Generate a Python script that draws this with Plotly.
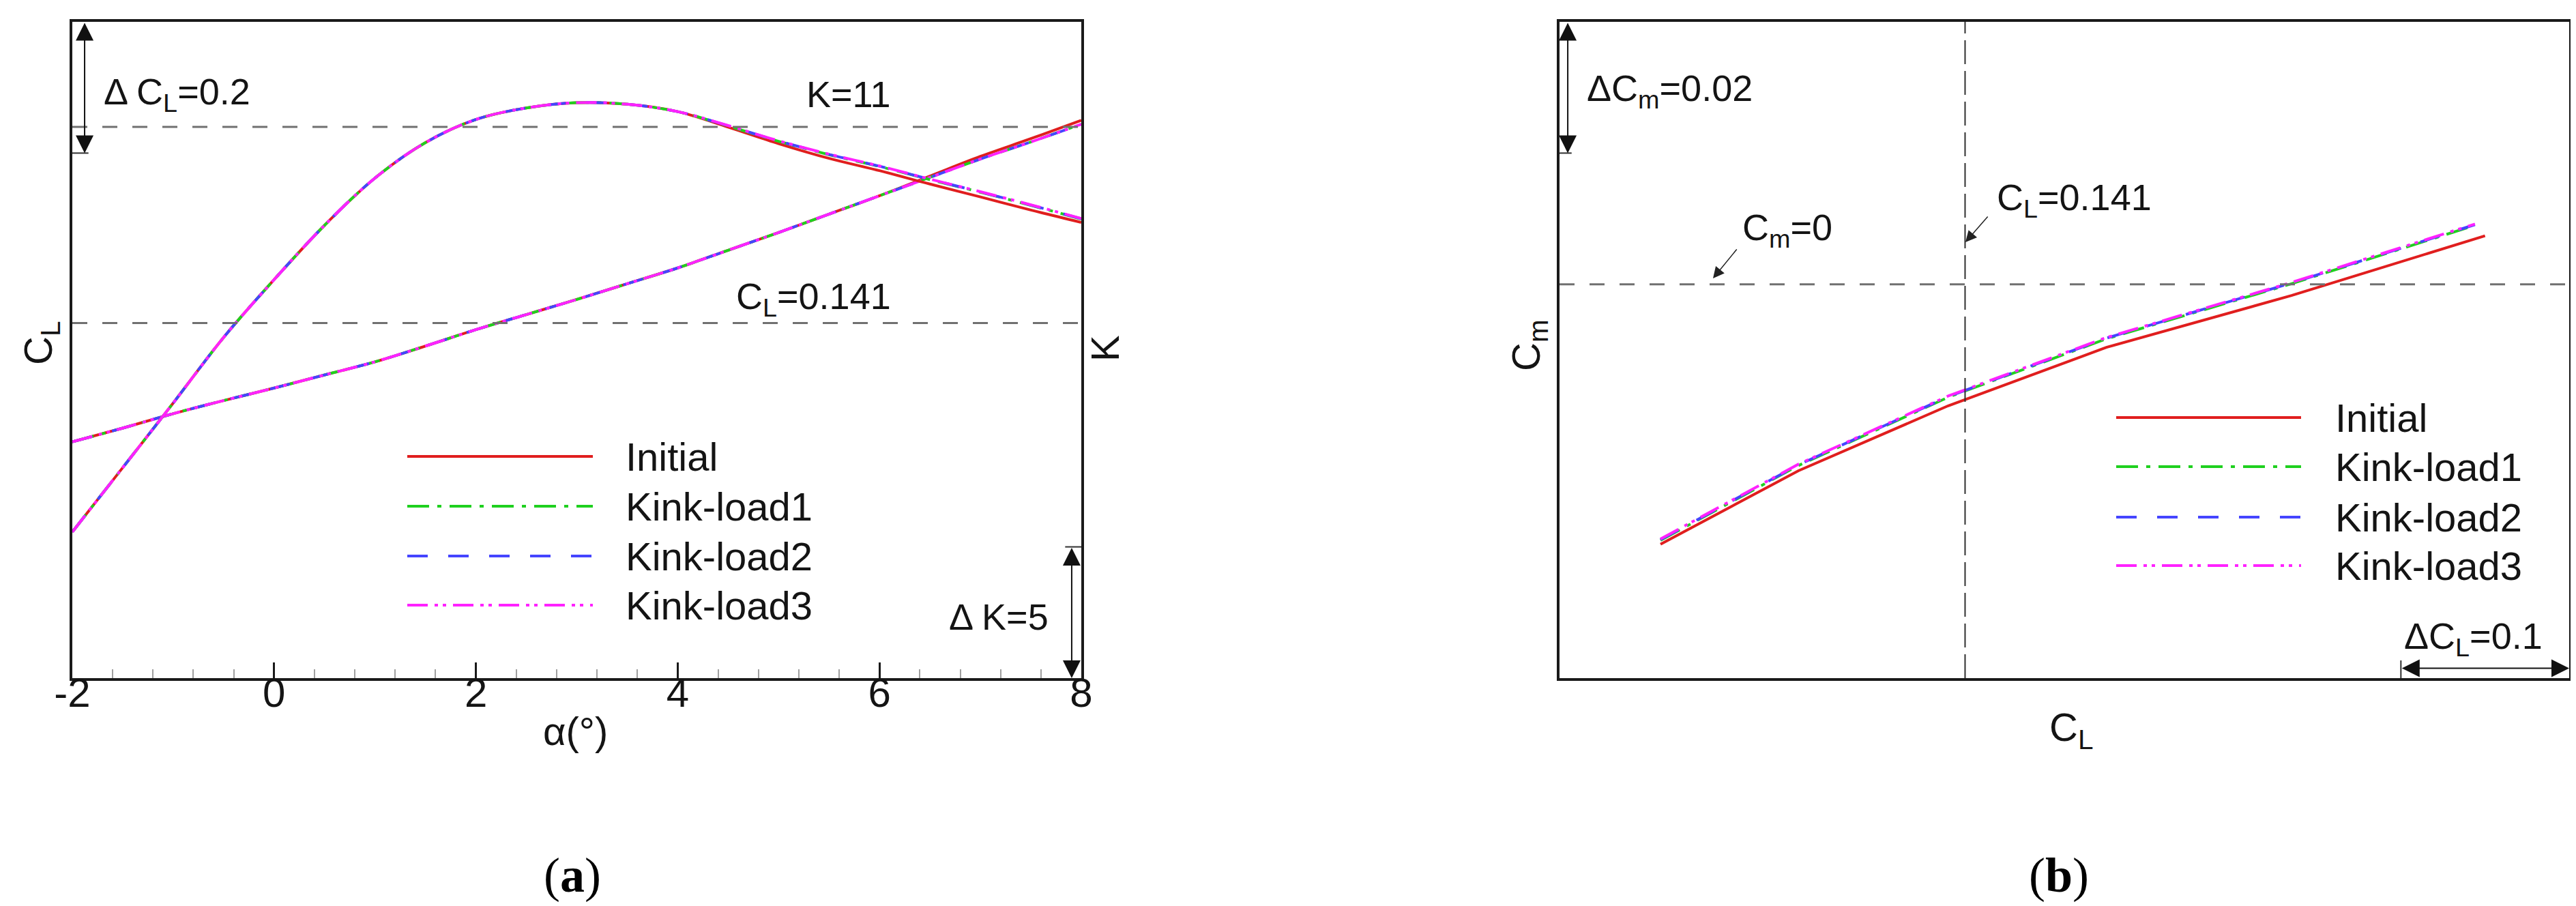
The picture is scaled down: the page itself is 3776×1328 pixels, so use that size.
import plotly.graph_objects as go

# ---------------- data ----------------
series_names = ["Initial", "Kink-load1", "Kink-load2", "Kink-load3"]

alpha = [-2.0, -1.5, -1.0, -0.5, 0.0, 0.5, 1.0, 1.5, 2.0, 2.5, 3.0,
         3.5, 4.0, 4.5, 5.0, 5.5, 6.0, 6.5, 7.0, 7.5, 8.0]

cl_initial = [-0.040, -0.019, 0.003, 0.023, 0.042, 0.062, 0.082, 0.106, 0.131, 0.154, 0.177,
              0.201, 0.225, 0.252, 0.279, 0.307, 0.335, 0.365, 0.395, 0.422, 0.450]
cl_kink1 = [-0.040, -0.019, 0.003, 0.023, 0.042, 0.062, 0.082, 0.106, 0.131, 0.154, 0.177,
            0.201, 0.225, 0.252, 0.279, 0.307, 0.335, 0.363, 0.391, 0.417, 0.444]
cl_kink2 = [-0.040, -0.019, 0.003, 0.023, 0.042, 0.062, 0.082, 0.106, 0.131, 0.154, 0.177,
            0.201, 0.225, 0.252, 0.279, 0.307, 0.335, 0.363, 0.391, 0.417, 0.444]
cl_kink3 = [-0.040, -0.019, 0.003, 0.023, 0.042, 0.062, 0.082, 0.106, 0.131, 0.154, 0.177,
            0.201, 0.225, 0.252, 0.279, 0.307, 0.335, 0.363, 0.391, 0.417, 0.444]

k_initial = [-4.43, -1.98, 0.48, 2.98, 5.18, 7.25, 9.05, 10.40, 11.28, 11.72, 11.92,
             11.86, 11.58, 10.99, 10.36, 9.80, 9.33, 8.82, 8.33, 7.83, 7.36]
k_kink1 = [-4.43, -1.98, 0.48, 2.98, 5.18, 7.25, 9.05, 10.40, 11.28, 11.72, 11.92,
           11.86, 11.58, 11.03, 10.45, 9.94, 9.49, 8.99, 8.51, 8.01, 7.49]
k_kink2 = [-4.43, -1.98, 0.48, 2.98, 5.18, 7.25, 9.05, 10.40, 11.28, 11.72, 11.92,
           11.86, 11.58, 11.04, 10.46, 9.95, 9.50, 9.00, 8.52, 8.02, 7.50]
k_kink3 = [-4.43, -1.98, 0.48, 2.98, 5.18, 7.25, 9.05, 10.40, 11.28, 11.72, 11.92,
           11.86, 11.58, 11.05, 10.47, 9.96, 9.51, 9.01, 8.53, 8.03, 7.51]

cl_b_initial = [-0.040, 0.042, 0.131, 0.225, 0.335, 0.450]
cl_b_kink = [-0.040, 0.042, 0.131, 0.225, 0.335, 0.444]
cm_initial = [-0.0396, -0.0284, -0.0185, -0.0096, -0.0017, 0.0074]
cm_kink1 = [-0.0390, -0.0276, -0.0172, -0.0083, 0.0001, 0.0090]
cm_kink2 = [-0.0389, -0.0275, -0.0171, -0.0082, 0.0002, 0.0091]
cm_kink3 = [-0.0388, -0.0274, -0.0170, -0.0081, 0.0003, 0.0092]

alpha_ticks = [-2, 0, 2, 4, 6, 8]
alpha_tick_text = ["-2", "0", "2", "4", "6", "8"]
CL_DESIGN = 0.141
K_REF = 11
CM_ZERO = 0.0

# ---------------- styles ----------------
W, H = 3776, 1328
FONT = "Liberation Sans, Arial, sans-serif"
TXT = "#141414"
colors = ["#e01e1e", "#1fd01f", "#4545ff", "#ff22ff"]
dashes = ["solid", "32px,12px,6px,12px", "30px,30px", "30px,10px,5px,7px,5px,10px"]
LW = 4


def px(x):
    return x / W


def py(y):
    return 1 - y / H


xa_dom = [px(98), px(1577)]
xb_dom = [px(2278), px(3758)]
y_dom = [py(986), py(24)]

fig = go.Figure()

cl_sets = [cl_initial, cl_kink1, cl_kink2, cl_kink3]
k_sets = [k_initial, k_kink1, k_kink2, k_kink3]
cl_b_sets = [cl_b_initial, cl_b_kink, cl_b_kink, cl_b_kink]
cm_sets = [cm_initial, cm_kink1, cm_kink2, cm_kink3]

for i, name in enumerate(series_names):
    line = dict(color=colors[i], width=LW, dash=dashes[i], shape="spline", smoothing=1.0)
    fig.add_trace(go.Scatter(x=alpha, y=cl_sets[i], mode="lines", name=name, line=line,
                             xaxis="x", yaxis="y", showlegend=False))
    fig.add_trace(go.Scatter(x=alpha, y=k_sets[i], mode="lines", name=name, line=line,
                             xaxis="x", yaxis="y2", showlegend=False))
for i, name in enumerate(series_names):
    fig.add_trace(go.Scatter(x=cl_b_sets[i], y=cm_sets[i], mode="lines", name=name,
                             line=dict(color=colors[i], width=LW, dash=dashes[i]),
                             xaxis="x2", yaxis="y3", showlegend=False))

frame = dict(showline=True, linewidth=4, linecolor="#1a1a1a", mirror=True,
             showgrid=False, zeroline=False)

fig.update_layout(
    width=W, height=H, margin=dict(l=0, r=0, t=0, b=0, autoexpand=False),
    paper_bgcolor="white", plot_bgcolor="white", showlegend=False,
    font=dict(family=FONT, color=TXT, size=58),
    xaxis=dict(domain=xa_dom, range=[-2, 8], anchor="y", **frame, automargin=False,
               ticks="inside", ticklen=23, tickwidth=3, tickcolor="#1a1a1a",
               tickmode="array", tickvals=alpha_ticks, ticktext=alpha_tick_text,
               ticklabelstandoff=-34,
               tickfont=dict(size=60, family=FONT, color=TXT),
               minor=dict(ticks="inside", ticklen=13, tickwidth=2, tickcolor="#a0a0a0",
                          dtick=0.4, tick0=0)),
    yaxis=dict(domain=y_dom, range=[-0.4, 0.6], anchor="x", **frame, automargin=False,
               showticklabels=False, ticks=""),
    yaxis2=dict(range=[-10, 15], overlaying="y", side="right", anchor="x", automargin=False,
                showline=False, showgrid=False, zeroline=False,
                showticklabels=False, ticks=""),
    xaxis2=dict(domain=xb_dom, range=[-0.1, 0.5], anchor="y3", **frame, automargin=False,
                showticklabels=False, ticks=""),
    yaxis3=dict(domain=y_dom, range=[-0.06, 0.04], anchor="x2", **frame, automargin=False,
                showticklabels=False, ticks=""),
)

shapes = []
# reference dashed lines
shapes.append(dict(type="line", xref="x domain", yref="y", x0=0, x1=1, y0=CL_DESIGN, y1=CL_DESIGN,
                   line=dict(color="#707070", width=3, dash="22px,22px")))
shapes.append(dict(type="line", xref="x domain", yref="y2", x0=0, x1=1, y0=K_REF, y1=K_REF,
                   line=dict(color="#707070", width=3, dash="22px,22px")))
shapes.append(dict(type="line", xref="x2 domain", yref="y3", x0=0, x1=1, y0=CM_ZERO, y1=CM_ZERO,
                   line=dict(color="#707070", width=3, dash="22px,22px")))
shapes.append(dict(type="line", xref="x2", yref="y3 domain", x0=CL_DESIGN, x1=CL_DESIGN, y0=0, y1=1,
                   line=dict(color="#303030", width=2, dash="35px,10px")))
# scale-bar end ticks
shapes.append(dict(type="line", xref="x domain", yref="y", x0=0, x1=0.016, y0=0.4, y1=0.4,
                   line=dict(color="#303030", width=2)))
shapes.append(dict(type="line", xref="x domain", yref="y2", x0=0.984, x1=1, y0=-5, y1=-5,
                   line=dict(color="#303030", width=2)))
shapes.append(dict(type="line", xref="x2 domain", yref="y3", x0=0, x1=0.012, y0=0.02, y1=0.02,
                   line=dict(color="#303030", width=2)))
shapes.append(dict(type="line", xref="x2", yref="y3", x0=0.4, x1=0.4, y0=-0.06, y1=-0.0573,
                   line=dict(color="#303030", width=2)))

annotations = []


def arrow2(x0, y0, x1, y1, xref, yref):
    annotations.append(dict(x=x1, y=y1, ax=x0, ay=y0, xref=xref, yref=yref, axref=xref, ayref=yref,
                            text="", showarrow=True, arrowside="end+start", arrowhead=2,
                            arrowsize=2.6, arrowwidth=2, arrowcolor="#111111",
                            font=dict(size=10)))


arrow2(-1.878, 0.6, -1.878, 0.4, "x", "y")
arrow2(7.905, -5, 7.905, -10, "x", "y2")
arrow2(-0.0951, 0.04, -0.0951, 0.02, "x2", "y3")
arrow2(0.4, -0.0585, 0.5, -0.0585, "x2", "y3")


def text(t, x, y, xanchor="left", size=54, angle=0):
    annotations.append(dict(text=t, x=px(x), y=py(y), xref="paper", yref="paper",
                            xanchor=xanchor, yanchor="middle", showarrow=False, textangle=angle,
                            font=dict(family=FONT, size=size, color=TXT)))


# panel a texts
text("Δ C<sub>L</sub>=0.2", 142, 130)
text("K=11", 1300, 130, xanchor="right")
text("C<sub>L</sub>=0.141", 1300, 430, xanchor="right")
text("Δ K=5", 1381, 896)
text("C<sub>L</sub>", 52, 495, xanchor="center", size=58, angle=-90)
text("K", 1612, 503, xanchor="center", size=58, angle=-90)
text("α(°)", 835, 1063, xanchor="center", size=58)
# panel b texts
text("ΔC<sub>m</sub>=0.02", 2316, 125)
text("C<sub>L</sub>=0.141", 2917, 285)
text("C<sub>m</sub>=0", 2544, 329)
text("ΔC<sub>L</sub>=0.1", 3514, 928)
text("C<sub>L</sub>", 3028, 1062, xanchor="center", size=58)
text("C<sub>m</sub>", 2233, 498, xanchor="center", size=58, angle=-90)

# pointer arrows in panel b
for tip, off in [((2503, 400), (36, -44)), ((2873, 347), (34, -39))]:
    annotations.append(dict(x=px(tip[0]), y=py(tip[1]), xref="paper", yref="paper",
                            ax=off[0], ay=off[1], text="", showarrow=True, arrowhead=2,
                            arrowsize=2.2, arrowwidth=1.5, arrowcolor="#222222",
                            font=dict(size=10)))

# legends
legend_a = dict(x0=589, x1=861, text_x=907, rows=[661, 734, 807, 879])
legend_b = dict(x0=3094, x1=3365, text_x=3413, rows=[604, 676, 750, 821])
for lg in (legend_a, legend_b):
    for i, name in enumerate(series_names):
        yy = lg["rows"][i]
        shapes.append(dict(type="line", xref="paper", yref="paper",
                           x0=px(lg["x0"]), x1=px(lg["x1"]), y0=py(yy), y1=py(yy),
                           line=dict(color=colors[i], width=LW, dash=dashes[i])))
        text(name, lg["text_x"], yy, size=58)

# subfigure labels
for lab, cx in (("a", 831), ("b", 3010)):
    annotations.append(dict(text="(<b>" + lab + "</b>)", x=px(cx), y=py(1275), xref="paper", yref="paper",
                            xanchor="center", yanchor="middle", showarrow=False,
                            font=dict(family="Liberation Serif, Times New Roman, serif", size=72, color="#000")))

fig.update_layout(shapes=shapes, annotations=annotations)
fig.write_html("out.html")
